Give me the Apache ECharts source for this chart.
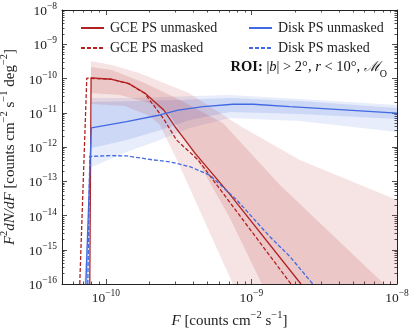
<!DOCTYPE html>
<html>
<head>
<meta charset="utf-8">
<script src="https://cdn.jsdelivr.net/npm/echarts@6/dist/echarts.min.js"></script>
<style>
  html, body { margin: 0; padding: 0; background: #fff; }
  #main { width: 415px; height: 328px; }
</style>
</head>
<body>
<div id="main"></div>
<script>
// values (F in counts cm^-2 s^-1, y = F^2 dN/dF)
var gceUnmaskedF = [7.76e-11, 7.92e-11, 1.10e-10, 1.43e-10, 1.86e-10, 2.5e-10, 2.99e-10, 4.11e-10, 7.0e-10, 2.19e-9];
var gceUnmaskedY = [1e-16, 1.05e-10, 9.5e-11, 7.2e-11, 3.7e-11, 1.2e-11, 3.9e-12, 6.5e-13, 4.5e-14, 1e-16];
var gceMaskedF = [6.62e-11, 7.4e-11, 1.10e-10, 1.43e-10, 1.85e-10, 2.0e-10, 2.48e-10, 3.06e-10, 4.3e-10, 1.87e-9];
var gceMaskedY = [1e-16, 1.03e-10, 9.4e-11, 7.1e-11, 3.7e-11, 2.35e-11, 6.9e-12, 1.6e-12, 4.2e-13, 1e-16];
var diskUnmaskedF = [7.29e-11, 7.95e-11, 1.39e-10, 2.35e-10, 3.14e-10, 4.67e-10, 7.46e-10, 1.03e-9, 1.84e-9, 4.06e-9, 1e-8];
var diskUnmaskedY = [1e-16, 3.6e-12, 5.5e-12, 8.6e-12, 1.2e-11, 1.5e-11, 1.77e-11, 1.77e-11, 1.5e-11, 1.24e-11, 9.8e-12];
var diskMaskedF = [7.52e-11, 7.76e-11, 1.06e-10, 1.39e-10, 2.11e-10, 2.75e-10, 3.78e-10, 5.19e-10, 7.95e-10, 1.34e-9, 1.84e-9, 2.64e-9];
var diskMaskedY = [1e-16, 5.3e-13, 5.6e-13, 5.5e-13, 4.2e-13, 3.7e-13, 2.66e-13, 1.5e-13, 2.8e-14, 2.4e-15, 6.3e-16, 1e-16];

// GCE bands (95% outer, 68% inner)
var gceOuterUpF = [7.9e-11, 1.10e-10, 1.69e-10, 3.72e-10, 8.6e-10, 2.15e-9, 1e-8];
var gceOuterUpY = [3.24e-10, 2.48e-10, 1.45e-10, 3.78e-11, 3.84e-12, 4.2e-13, 2.84e-14];
var gceOuterLoF = [7.9e-11, 1.35e-10, 2.0e-10, 2.35e-10, 3.08e-10, 7.46e-10, 1e-8];
var gceOuterLoY = [1.8e-11, 1.58e-11, 8.0e-12, 4.4e-12, 4.2e-13, 1e-16, 1e-16];
var gceInnerUpF = [7.9e-11, 1.10e-10, 1.85e-10, 3.23e-10, 6.37e-10, 1.57e-9, 8.15e-9];
var gceInnerUpY = [2.17e-10, 1.77e-10, 7.4e-11, 2.35e-11, 5.0e-12, 7.8e-14, 1e-16];
var gceInnerLoF = [7.9e-11, 1.25e-10, 2.0e-10, 2.75e-10, 3.38e-10, 4.43e-10, 7.11e-10, 1.18e-9];
var gceInnerLoY = [3.78e-11, 3.3e-11, 1.93e-11, 8.6e-12, 2.24e-12, 2.98e-13, 8.5e-15, 1e-16];

// Disk bands
var diskOuterUpF = [7.64e-11, 8.01e-11, 1.43e-10, 7.11e-10, 2.15e-9, 1e-8];
var diskOuterUpY = [1e-16, 2.7e-11, 2.7e-11, 3.3e-11, 2.5e-11, 1.68e-11];
var diskOuterLoF = [7.06e-11, 8.01e-11, 1.39e-10, 2.35e-10, 3.78e-10, 7.11e-10, 2.15e-9, 1e-8];
var diskOuterLoY = [1e-16, 2.6e-13, 7.1e-13, 1.6e-12, 3.6e-12, 7.0e-12, 5.7e-12, 2.74e-12];
var diskInnerUpF = [7.52e-11, 8.01e-11, 3.23e-10, 7.11e-10, 2.15e-9, 1e-8];
var diskInnerUpY = [1e-16, 2.06e-11, 2.35e-11, 2.7e-11, 2.2e-11, 1.38e-11];
var diskInnerLoF = [7.18e-11, 8.01e-11, 1.39e-10, 2.35e-10, 3.78e-10, 7.11e-10, 2.15e-9, 1e-8];
var diskInnerLoY = [1e-16, 9.3e-13, 1.6e-12, 3.1e-12, 6.1e-12, 1.05e-11, 9.2e-12, 6.6e-12];

var xMajor = [-10, -9, -8];
var yMajor = [-16, -15, -14, -13, -12, -11, -10, -9, -8];

var FONT = 'Liberation Serif';
var RED = '#b22222';
var BLUE = '#4169e1';
var xMin = Math.log10(5e-11), xMax = -8;
var yMin = -16, yMax = -8;

function minorTicks(lo, hi) {
    var out = [];
    for (var n = Math.floor(lo); n < hi; n++) {
        for (var k = 2; k <= 9; k++) {
            var v = n + Math.log10(k);
            if (v >= lo - 1e-9 && v <= hi + 1e-9) out.push(v);
        }
    }
    return out;
}

function pairs(fs, ys) {
    return fs.map(function (f, i) { return [Math.log10(f), Math.log10(ys[i])]; });
}

function band(upF, upY, loF, loY, color) {
    var pts = pairs(upF, upY).concat(pairs(loF, loY).reverse());
    return {
        type: 'custom',
        z: 1,
        silent: true,
        data: pts,
        encode: {x: 0, y: 1},
        renderItem: function (params, api) {
            if (params.dataIndex !== 0) return null;
            return {
                type: 'polygon',
                shape: {points: pts.map(function (p) { return api.coord(p); })},
                style: {fill: color}
            };
        }
    };
}

function line(name, fs, ys, color, dashed) {
    return {
        name: name,
        type: 'line',
        z: 3,
        data: pairs(fs, ys),
        symbol: 'none',
        lineStyle: {color: color, width: 1.3, type: dashed ? [4, 2] : 'solid'},
        itemStyle: {color: color}
    };
}

function powLabel(v) {
    return '{b|10}{s|\u2212' + Math.abs(v) + '}';
}

var labelRich = {
    b: {fontSize: 13.5, fontFamily: FONT, color: '#222', verticalAlign: 'bottom', lineHeight: 17},
    s: {fontSize: 9.5, fontFamily: FONT, color: '#222', verticalAlign: 'top', lineHeight: 17}
};

var nameRich = {
    i: {fontStyle: 'italic', fontSize: 15, fontFamily: FONT, color: '#222', verticalAlign: 'bottom', lineHeight: 19},
    t: {fontSize: 15, fontFamily: FONT, color: '#222', verticalAlign: 'bottom', lineHeight: 19},
    s: {fontSize: 10.5, fontFamily: FONT, color: '#222', verticalAlign: 'top', lineHeight: 19}
};

function xAxisDef(pos, ticks, len, major) {
    return {
        type: 'value', position: pos, min: xMin, max: xMax,
        name: (major && pos === 'bottom') ? '{i|F}{t| [counts cm}{s|\u22122}{t| s}{s|\u22121}{t|]}' : '',
        nameLocation: 'middle', nameGap: 20,
        nameTextStyle: {rich: nameRich},
        axisLine: {show: major, onZero: false, lineStyle: {color: '#222', width: 1}},
        axisTick: {show: true, inside: true, length: len, customValues: ticks, lineStyle: {color: '#222', width: 0.8}},
        axisLabel: {show: major && pos === 'bottom', customValues: ticks, formatter: powLabel, rich: labelRich, margin: 4},
        splitLine: {show: false}
    };
}

function yAxisDef(pos, ticks, len, major) {
    return {
        type: 'value', position: pos, min: yMin, max: yMax,
        name: (major && pos === 'left') ? '{i|F}{s|2}{i|dN/dF}{t| [counts cm}{s|\u22122}{t| s}{s|\u22121}{t| deg}{s|\u22122}{t|]}' : '',
        nameLocation: 'middle', nameGap: 37,
        nameTextStyle: {rich: nameRich},
        axisLine: {show: major, onZero: false, lineStyle: {color: '#222', width: 1}},
        axisTick: {show: true, inside: true, length: len, customValues: ticks, lineStyle: {color: '#222', width: 0.8}},
        axisLabel: {show: major && pos === 'left', customValues: ticks, formatter: powLabel, rich: labelRich, margin: 5},
        splitLine: {show: false}
    };
}

var xMinor = minorTicks(xMin, xMax);
var yMinor = minorTicks(yMin, yMax);

var legendBase = {
    orient: 'vertical', top: 16, padding: 5,
    itemWidth: 23, itemHeight: 10, itemGap: 6,
    itemStyle: {opacity: 0},
    textStyle: {fontSize: 14, fontFamily: FONT, color: '#222', padding: [0, 0, 0, 1]}
};

var myChart = echarts.init(document.getElementById('main'));
var option = {
    animation: false,
    backgroundColor: '#fff',
    grid: {left: 62, right: 18, top: 10, bottom: 44, outerBoundsMode: 'none'},
    title: {
        text: '{b|ROI:}{t| |}{i|b}{t|| > 2\u00b0, }{i|r}{t| < 10\u00b0, }{m|\u2133}{o|O}',
        right: 23, top: 55,
        textStyle: {
            fontSize: 14.5, fontWeight: 'normal', fontFamily: FONT, color: '#111',
            rich: {
                b: {fontWeight: 'bold', fontSize: 14.5, fontFamily: FONT, color: '#111', verticalAlign: 'top', lineHeight: 17},
                t: {fontSize: 14.5, fontFamily: FONT, color: '#111', verticalAlign: 'top', lineHeight: 17},
                i: {fontStyle: 'italic', fontSize: 14.5, fontFamily: FONT, color: '#111', verticalAlign: 'top', lineHeight: 17},
                m: {fontStyle: 'italic', fontSize: 14, fontFamily: 'DejaVu Serif', color: '#111', verticalAlign: 'top', lineHeight: 17},
                o: {fontSize: 10, fontFamily: FONT, color: '#111', verticalAlign: 'bottom', lineHeight: 19}
            }
        }
    },
    legend: [
        Object.assign({}, legendBase, {data: ['GCE PS unmasked', 'GCE PS masked'], left: 75}),
        Object.assign({}, legendBase, {data: ['Disk PS unmasked', 'Disk PS masked'], left: 243})
    ],
    xAxis: [
        xAxisDef('bottom', xMajor, 5, true),
        xAxisDef('bottom', xMinor, 2.5, false),
        xAxisDef('top', xMajor, 5, true),
        xAxisDef('top', xMinor, 2.5, false)
    ],
    yAxis: [
        yAxisDef('left', yMajor, 5, true),
        yAxisDef('left', yMinor, 2.5, false),
        yAxisDef('right', yMajor, 5, true),
        yAxisDef('right', yMinor, 2.5, false)
    ],
    series: [
        band(diskOuterUpF, diskOuterUpY, diskOuterLoF, diskOuterLoY, 'rgba(65,105,225,0.12)'),
        band(diskInnerUpF, diskInnerUpY, diskInnerLoF, diskInnerLoY, 'rgba(65,105,225,0.16)'),
        band(gceOuterUpF, gceOuterUpY, gceOuterLoF, gceOuterLoY, 'rgba(178,34,34,0.12)'),
        band(gceInnerUpF, gceInnerUpY, gceInnerLoF, gceInnerLoY, 'rgba(178,34,34,0.15)'),
        line('GCE PS unmasked', gceUnmaskedF, gceUnmaskedY, RED, false),
        line('GCE PS masked', gceMaskedF, gceMaskedY, RED, true),
        line('Disk PS unmasked', diskUnmaskedF, diskUnmaskedY, BLUE, false),
        line('Disk PS masked', diskMaskedF, diskMaskedY, BLUE, true)
    ]
};
myChart.setOption(option);
</script>
</body>
</html>
